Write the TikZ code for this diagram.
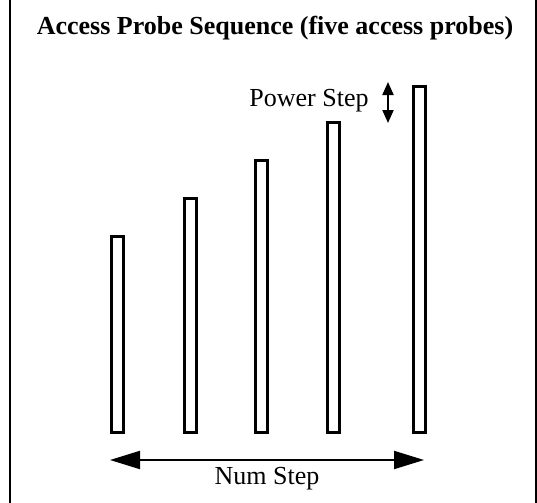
\documentclass[tikz,border=0pt]{standalone}
\usepackage{fontspec}
\setmainfont{Liberation Serif}
\usepackage{tikz}
\usetikzlibrary{arrows.meta,positioning}
\tikzset{
  probe/.style={
    draw=black,
    line width=1.5pt,
    fill=white,
    anchor=south,
    minimum width=6pt,
    inner sep=0pt
  },
  frameline/.style={line width=1pt, draw=black},
  steparrow/.style={{Triangle[length=15pt,width=9pt]}-{Triangle[length=15pt,width=9pt]}, line width=1pt},
  powerarrow/.style={{Triangle[length=6.5pt,width=5.5pt]}-{Triangle[length=6.5pt,width=5.5pt]}, line width=1pt},
  label/.style={font=\fontsize{13}{15}\selectfont, inner sep=0pt}
}

\begin{document}
\begin{tikzpicture}[x=0.5pt,y=-0.5pt]
\useasboundingbox (0,0) rectangle (537,503);
\draw[frameline] (10,0) -- (10,503);
\draw[frameline] (535.5,0) -- (535.5,503);

\node[label, font=\bfseries\fontsize{13}{15}\selectfont] (title) at (275,28) {Access Probe Sequence (five access probes)};

% probes, bottoms aligned
\foreach \i/\x/\h in {1/117.5/196, 2/190/234, 3/261.5/272, 4/333.5/310, 5/419/346}
  \node[probe, minimum height=\h*0.5pt] (p\i) at (\x,433.5) {};

\coordinate (ptop) at (388,82);
\coordinate (pbot) at (388,123);
\draw[powerarrow] (ptop) -- (pbot);
\node[label, anchor=east] (power) at (369,101) {Power Step};

\coordinate (nleft) at (110,460);
\coordinate (nright) at (424,460);
\draw[steparrow] (nleft) -- (nright);
\node[label] (num) at (267,479) {Num Step};
\end{tikzpicture}
\end{document}
